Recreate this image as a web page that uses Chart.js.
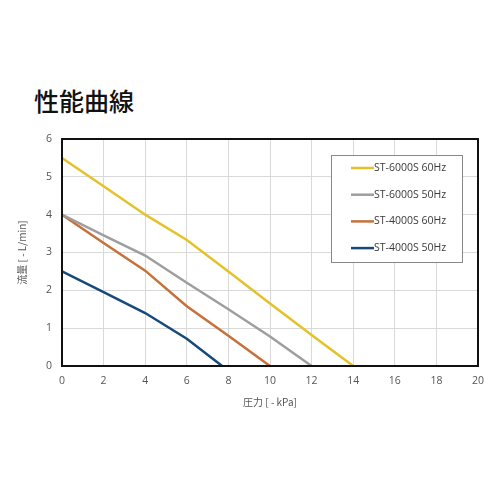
<!DOCTYPE html>
<html>
<head>
<meta charset="utf-8">
<script src="https://cdn.jsdelivr.net/npm/chart.js@4.4.0/dist/chart.umd.min.js"></script>
<style>
  body { margin: 0; background: #fff; }
  #wrap { position: relative; width: 500px; height: 500px; }
  #title { position: absolute; left: 34px; top: 82px; font-family: "Noto Sans CJK JP"; font-weight: 500; font-size: 25px; color: #111; }
  #chart { position: absolute; left: 0; top: 0; }
</style>
</head>
<body>
<div id="wrap">
  <div id="title">性能曲線</div>
  <canvas id="chart" width="500" height="500"></canvas>
</div>
<script>
// data
var labels = ["ST-6000S 60Hz", "ST-6000S 50Hz", "ST-4000S 60Hz", "ST-4000S 50Hz"];
var colors = ["#E5C12A", "#9E9E9E", "#C6703A", "#164A7A"];

var st6000_60x = [0, 2, 4, 6, 8, 10, 12, 14];
var st6000_60y = [5.5, 4.75, 4.0, 3.33, 2.5, 1.65, 0.82, 0];

var st6000_50x = [0, 2, 4, 6, 8, 10, 12];
var st6000_50y = [4.0, 3.45, 2.92, 2.2, 1.5, 0.78, 0];

var st4000_60x = [0, 2, 4, 6, 8, 10];
var st4000_60y = [4.0, 3.25, 2.52, 1.58, 0.8, 0];

var st4000_50x = [0, 2, 4, 6, 7.7];
var st4000_50y = [2.5, 1.95, 1.4, 0.72, 0];

var xTitle = "圧力 [ - kPa]";
var yTitle = "流量 [ - L/min]";

function pts (xs, ys) {
	var out = [];
	for (var i = 0; i < xs.length; i++) out.push({x: xs[i], y: ys[i]});
	return out;
}

var series = [
	pts(st6000_60x, st6000_60y),
	pts(st6000_50x, st6000_50y),
	pts(st4000_60x, st4000_60y),
	pts(st4000_50x, st4000_50y)
];

var datasets = series.map(function (d, i) {
	return {
		label: labels[i],
		data: d,
		borderColor: colors[i],
		backgroundColor: colors[i],
		borderWidth: 2.5,
		pointRadius: 0,
		tension: 0
	};
});

// legend box inside the plot, plus the black frame
var boxLegend = {
	id: 'boxLegend',
	afterDraw: function (chart) {
		var ctx = chart.ctx;
		var a = chart.chartArea;
		ctx.save();
		ctx.strokeStyle = '#111';
		ctx.lineWidth = 2;
		ctx.strokeRect(a.left, a.top, a.right - a.left, a.bottom - a.top);

		var bx = 331, by = 155, bw = 131, bh = 107;
		ctx.fillStyle = '#fff';
		ctx.fillRect(bx, by, bw, bh);
		ctx.strokeStyle = '#888';
		ctx.lineWidth = 1;
		ctx.strokeRect(bx + 0.5, by + 0.5, bw, bh);

		ctx.font = '10.5px "Open Sans"';
		ctx.textBaseline = 'middle';
		chart.data.datasets.forEach(function (ds, i) {
			var y = 168 + i * 26.7;
			ctx.strokeStyle = ds.borderColor;
			ctx.lineWidth = 2.5;
			ctx.beginPath();
			ctx.moveTo(351, y);
			ctx.lineTo(374, y);
			ctx.stroke();
			ctx.fillStyle = '#3a3a3a';
			ctx.fillText(ds.label, 374, y);
		});
		ctx.restore();
	}
};

var ctx = document.getElementById('chart').getContext('2d');
new Chart(ctx, {
	type: 'line',
	data: { datasets: datasets },
	plugins: [boxLegend],
	options: {
		responsive: false,
		animation: false,
		layout: { padding: { left: 12, right: 22, top: 139, bottom: 88 } },
		plugins: { legend: { display: false }, tooltip: { enabled: false } },
		scales: {
			x: {
				type: 'linear',
				min: 0, max: 20,
				ticks: { stepSize: 2, color: '#555', font: { size: 10.5, family: 'Open Sans' }, padding: 9 },
				grid: { color: '#d9d9d9', drawTicks: false },
				border: { display: false },
				title: { display: true, text: xTitle, color: '#555', font: { size: 10, family: 'Noto Sans CJK JP' }, padding: { top: 3 } },
				afterFit: function (s) { s.height = 46; }
			},
			y: {
				min: 0, max: 6,
				ticks: { stepSize: 1, color: '#555', font: { size: 10.5, family: 'Open Sans' }, padding: 10 },
				grid: { color: '#d9d9d9', drawTicks: false },
				border: { display: false },
				title: { display: true, text: yTitle, color: '#555', font: { size: 10, family: 'Noto Sans CJK JP' }, padding: { bottom: 8 } },
				afterFit: function (s) { s.width = 50; }
			}
		}
	}
});
</script>
</body>
</html>
